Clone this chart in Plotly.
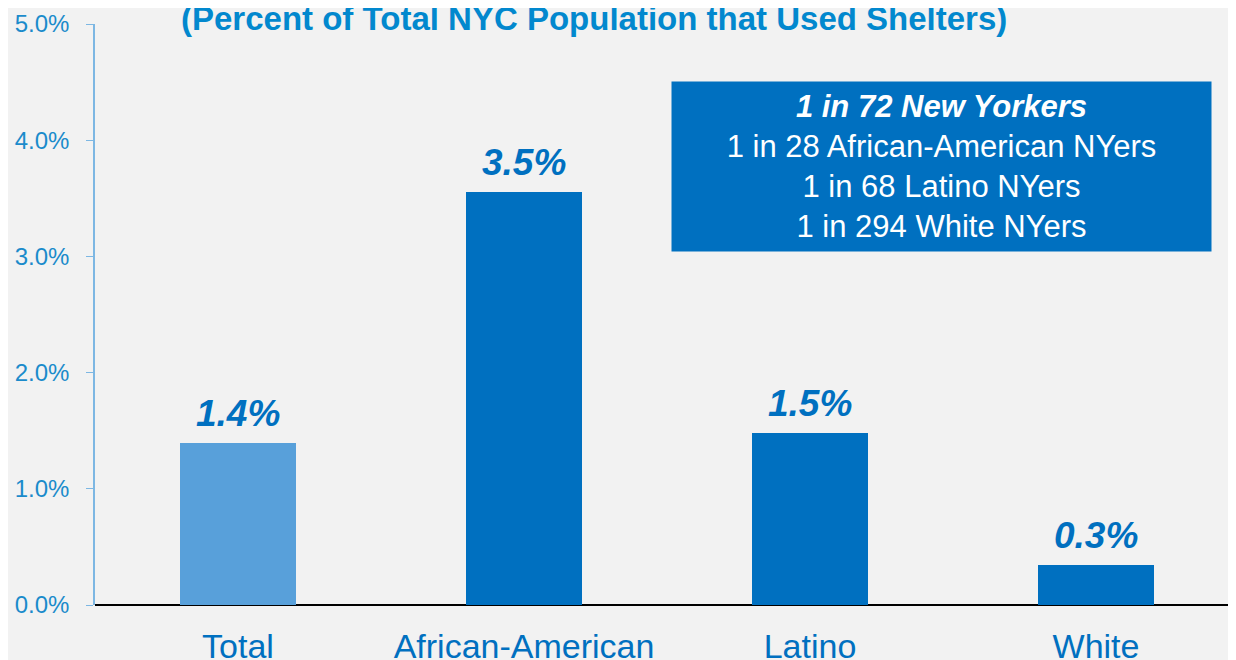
import plotly.graph_objects as go

categories = ["Total", "African-American", "Latino", "White"]
values = [1.39, 3.55, 1.48, 0.345]
value_labels = ["1.4%", "3.5%", "1.5%", "0.3%"]
y_ticks = [0, 1, 2, 3, 4, 5]
y_tick_labels = ["0.0%", "1.0%", "2.0%", "3.0%", "4.0%", "5.0%"]
title_text = "(Percent of Total NYC Population that Used Shelters)"
box_lines = ["<b><i>1 in 72 New Yorkers</i></b>", "1 in 28 African-American NYers",
             "1 in 68 Latino NYers", "1 in 294 White NYers"]

BLUE = "#0070C0"
FONT = "Liberation Sans, Arial, sans-serif"

# plot area in page pixels (page has an 8px body margin)
PX_L, PX_R, PX_T, PX_B = 95, 1244, 24, 605
PW, PH = PX_R - PX_L, PX_B - PX_T

fig = go.Figure()
fig.add_trace(go.Bar(
    x=categories[:1], y=values[:1], width=0.405,
    marker=dict(color="#6AAEE2", line=dict(width=0),
                pattern=dict(shape=".", size=2, solidity=0.5,
                             fgcolor="#F4F9FD", bgcolor="#2C86CF", fillmode="overlay")),
    hoverinfo="skip", showlegend=False))
fig.add_trace(go.Bar(
    x=categories[1:], y=values[1:], width=0.405,
    marker=dict(color=BLUE, line=dict(width=0)),
    hoverinfo="skip", showlegend=False))

for c, v, lab in zip(categories, values, value_labels):
    fig.add_annotation(x=c, y=v, text=f"<b><i>{lab}</i></b>", showarrow=False,
                       yanchor="bottom", yshift=7,
                       font=dict(family=FONT, size=37, color=BLUE))

fig.add_annotation(xref="paper", yref="paper", x=(594 - PX_L) / PW, y=(PX_B - 18.5) / PH,
                   text=f"<b>{title_text}</b>", showarrow=False, yanchor="middle",
                   font=dict(family=FONT, size=33, color="#0288CE"))

fig.add_annotation(xref="paper", yref="paper", x=(941.5 - PX_L) / PW, y=(PX_B - 166.5) / PH,
                   text="<br>".join(box_lines), showarrow=False,
                   xanchor="center", yanchor="middle",
                   width=531, height=161, borderpad=4, bgcolor=BLUE,
                   font=dict(family=FONT, size=31, color="#FFFFFF"))

fig.update_layout(
    width=1236, height=660,
    margin=dict(l=PX_L - 8, r=0, t=PX_T - 8, b=668 - PX_B),
    paper_bgcolor="#F2F2F2", plot_bgcolor="#F2F2F2",
    bargap=0,
    xaxis=dict(range=[-0.5, -0.5 + PW / 286], showgrid=False, zeroline=False,
               showline=False, ticks="", ticklabelstandoff=18,
               tickfont=dict(family=FONT, size=34, color=BLUE)),
    yaxis=dict(range=[0, 5], tickvals=y_ticks, ticktext=y_tick_labels,
               showgrid=False, zeroline=True, zerolinecolor="#000000", zerolinewidth=1.5,
               showline=True, linecolor="#7DB7E3", linewidth=1.5,
               ticks="outside", ticklen=7, tickcolor="#7DB7E3",
               ticklabelstandoff=12,
               tickfont=dict(family=FONT, size=24, color="#1B8BCB")),
)

fig.write_html("out.html")
